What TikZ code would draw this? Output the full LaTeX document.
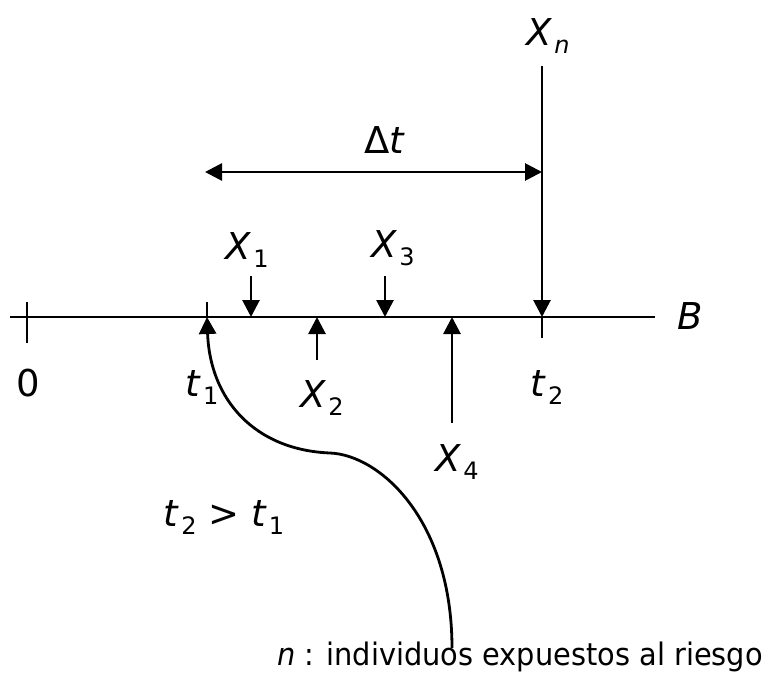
\documentclass[tikz,border=0pt]{standalone}
\usepackage{fontspec}
\setmainfont{DejaVu Sans}
\usetikzlibrary{arrows.meta}
\newcommand{\lbl}[2]{\textit{#1}\kern2pt\raisebox{-8pt}{\fontsize{24}{26}\selectfont #2}}
\begin{document}
\begin{tikzpicture}[x=1pt,y=-1pt,
  line/.style={line width=2.8pt},
  tip/.style={-{Triangle[width=17pt,length=17pt]}},
  lab/.style={inner sep=0pt,font=\fontsize{37}{42}\selectfont},
  note/.style={inner sep=0pt,font=\fontsize{31}{36}\selectfont}]
\useasboundingbox (0,0) rectangle (769,677);
% coordinates
\coordinate (Bl) at (10,317);
\coordinate (Br) at (655,317);
\coordinate (z) at (27,317);
\coordinate (t1) at (207,317);
\coordinate (x1) at (251,317);
\coordinate (x2) at (317,317);
\coordinate (x3) at (385,317);
\coordinate (x4) at (452,317);
\coordinate (t2) at (542,317);
\coordinate (x1s) at (251,276);
\coordinate (x3s) at (385,276);
\coordinate (x2s) at (317,360);
\coordinate (x4s) at (452,423);
\coordinate (xns) at (542,66);
\coordinate (dl) at (205,172);
\coordinate (dr) at (542,172);
\coordinate (ce) at (452,648);
% labels
\node[lab] (lB) at (690,316) {\textit{B}};
\node[lab] (l0) at (28,383) {0};
\node[lab] (lt1) at (202,388) {\lbl{t}{1}};
\node[lab] (lt2) at (547,388) {\lbl{t}{2}};
\node[lab] (lx1) at (247,250) {\lbl{X}{1}};
\node[lab] (lx3) at (393,248) {\lbl{X}{3}};
\node[lab] (lx2) at (322,398) {\lbl{X}{2}};
\node[lab] (lx4) at (457,462) {\lbl{X}{4}};
\node[lab] (lxn) at (548,36) {\lbl{X}{\textit{n}}};
\node[lab] (ldt) at (385,140) {Δ\textit{t}};
\node[lab] (lcmp) at (224,518) {\lbl{t}{2} > \lbl{t}{1}};
\node[note,anchor=south west] (ln) at (277,672) {\scalebox{0.93}[1]{\textit{n} : individuos expuestos al riesgo}};
% axis
\draw[line] (Bl) -- (Br);
\draw[line] ([yshift=15pt]z) -- ([yshift=-26pt]z);
\draw[line] ([yshift=15pt]t1) -- (t1);
\draw[line] (t2) -- ([yshift=-21pt]t2);
% arrows
\draw[line,tip] (x1s) -- (x1);
\draw[line,tip] (x3s) -- (x3);
\draw[line,tip] (x2s) -- (x2);
\draw[line,tip] (x4s) -- (x4);
\draw[line,tip] (xns) -- (t2);
\draw[line,{Triangle[width=17pt,length=17pt]}-{Triangle[width=17pt,length=17pt]}] (dl) -- (dr);
% curve
\draw[line,tip] (ce) .. controls (452,520) and (380,455) .. (330,453)
  .. controls (255,450) and (210,400) .. (t1);
\end{tikzpicture}
\end{document}
